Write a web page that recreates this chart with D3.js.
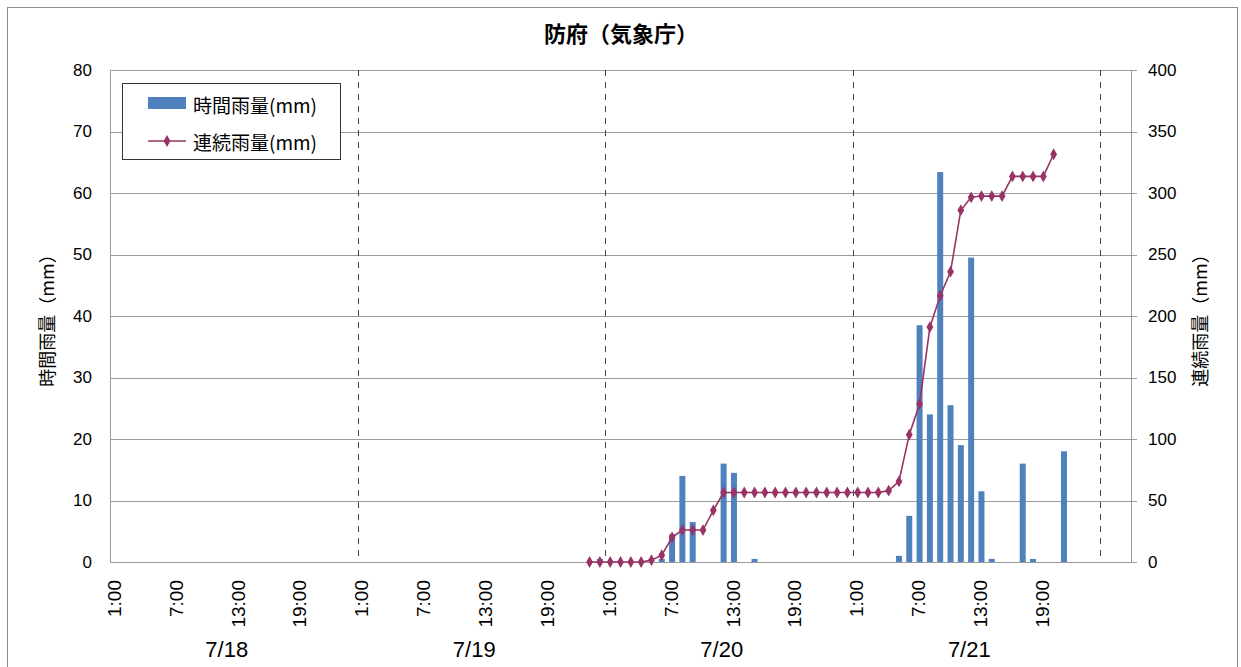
<!DOCTYPE html>
<html lang="ja">
<head>
<meta charset="UTF-8">
<title>防府（気象庁）</title>
<script src="https://d3js.org/d3.v7.min.js"></script>
<style>
  body { margin: 0; background: #fff; }
  text { fill: #000; }
</style>
</head>
<body>
<svg width="1241" height="667"></svg>
<script>
// day groups on the category axis, and the hour labels shown under each day
const days = ["7/18", "7/19", "7/20", "7/21"];
const hourTicks = ["1:00", "7:00", "13:00", "19:00"];
// the axis runs 3 hours past the last day
const extraSlots = ["7/22 1:00", "7/22 2:00", "7/22 3:00"];

// hourly rainfall (mm), one value per hour 1:00..24:00
const rain0718 = [0,0,0,0,0,0,0,0,0,0,0,0,0,0,0,0,0,0,0,0,0,0,0,0];
const rain0719 = [0,0,0,0,0,0,0,0,0,0,0,0,0,0,0,0,0,0,0,0,0,0,0,0.5];
const rain0720 = [0,0,0,0,0,0.5,4.5,14,6.5,0,0,16,14.5,0,0.5,0,0,0,0,0,0,0,0,0];
const rain0721 = [0,0,0,0,1,7.5,38.5,24,63.4,25.5,19,49.5,11.5,0.5,0,0,16,0.5,0,0,18,0,0,0];
const rainExtra = [0,0,0];

// continuous rainfall (mm), null = not observed
const cont0718 = [null,null,null,null,null,null,null,null,null,null,null,null,null,null,null,null,null,null,null,null,null,null,null,null];
const cont0719 = [null,null,null,null,null,null,null,null,null,null,null,null,null,null,null,null,null,null,null,null,null,null,0,0];
const cont0720 = [0,0,0,0,1.5,5.5,20,26,26,26,42,56.5,56.5,56.5,56.5,56.5,56.5,56.5,56.5,56.5,56.5,56.5,56.5,56.5];
const cont0721 = [56.5,56.5,56.5,58,65.5,103.5,128.5,191,216.5,236,286,296.5,297.5,297.5,297.5,313.5,313.5,313.5,313.5,331.5,null,null,null,null];
const contExtra = [null,null,null];

const leftTicks = [0,10,20,30,40,50,60,70,80];
const rightTicks = [0,50,100,150,200,250,300,350,400];

const jp = "'Noto Sans CJK JP', sans-serif";
const num = "'Liberation Sans', Arial, sans-serif";

// build the category list
const cats = [];
days.forEach(d => { for (let h = 1; h <= 24; h++) cats.push(d + " " + h + ":00"); });
extraSlots.forEach(s => cats.push(s));
const hourly = [].concat(rain0718, rain0719, rain0720, rain0721, rainExtra);
const cont = [].concat(cont0718, cont0719, cont0720, cont0721, contExtra);
const rows = cats.map((c, i) => ({cat: c, rain: hourly[i], cont: cont[i]}));

const pLeft = 110, pRight = 1131, pTop = 70, pBottom = 562;

const x = d3.scaleBand().domain(cats).range([pLeft, pRight]);
const yL = d3.scaleLinear().domain([0, 80]).range([pBottom, pTop]);
const yR = d3.scaleLinear().domain([0, 400]).range([pBottom, pTop]);

const svg = d3.select("svg");

// outer frame
svg.append("rect").attr("x", 7.5).attr("y", 7.5).attr("width", 1230).attr("height", 670)
    .attr("fill", "#fff").attr("stroke", "#8c8c8c");

// title
svg.append("text").attr("x", 621).attr("y", 32).attr("text-anchor", "middle")
    .attr("dominant-baseline", "central").style("font-family", jp)
    .style("font-size", "22px").style("font-weight", "bold").text("防府（気象庁）");

// horizontal gridlines
svg.append("g").selectAll("line").data(leftTicks).join("line")
    .attr("x1", pLeft).attr("x2", pRight + 6)
    .attr("y1", d => Math.round(yL(d)) + 0.5).attr("y2", d => Math.round(yL(d)) + 0.5)
    .attr("stroke", "#9a9a9a");

// axis lines
svg.append("line").attr("x1", pLeft + 0.5).attr("x2", pLeft + 0.5).attr("y1", pTop).attr("y2", pBottom)
    .attr("stroke", "#9a9a9a");
svg.append("line").attr("x1", pRight + 0.5).attr("x2", pRight + 0.5).attr("y1", pTop).attr("y2", pBottom)
    .attr("stroke", "#9a9a9a");

// day separators
const sepCats = days.slice(1).map(d => d + " 1:00").concat([extraSlots[0]]);
svg.append("g").selectAll("line").data(sepCats).join("line")
    .attr("x1", d => Math.round(x(d)) + 0.5).attr("x2", d => Math.round(x(d)) + 0.5)
    .attr("y1", pTop).attr("y2", pBottom)
    .attr("stroke", "#444").attr("stroke-dasharray", "6,6");

// left axis
const axL = svg.append("g").attr("transform", `translate(${pLeft},0)`)
    .call(d3.axisLeft(yL).tickValues(leftTicks).tickSize(0).tickPadding(18));
axL.select(".domain").remove();
axL.selectAll("text").style("font-family", num).style("font-size", "17px").attr("fill", "#000");

// right axis
const axR = svg.append("g").attr("transform", `translate(${pRight},0)`)
    .call(d3.axisRight(yR).tickValues(rightTicks).tickSize(0).tickPadding(17));
axR.select(".domain").remove();
axR.selectAll("text").style("font-family", num).style("font-size", "17px").attr("fill", "#000");

// axis titles
svg.append("text").attr("transform", `translate(46,${(pTop + pBottom) / 2}) rotate(-90)`)
    .attr("text-anchor", "middle").attr("dominant-baseline", "central")
    .style("font-family", jp).style("font-size", "18px").text("時間雨量（mm）");
svg.append("text").attr("transform", `translate(1199,${(pTop + pBottom) / 2}) rotate(-90)`)
    .attr("text-anchor", "middle").attr("dominant-baseline", "central")
    .style("font-family", jp).style("font-size", "18px").text("連続雨量（mm）");

// x axis: hour labels
const tickCats = [];
days.forEach(d => hourTicks.forEach(h => tickCats.push(d + " " + h)));
const axX = svg.append("g").attr("transform", `translate(0,${pBottom})`)
    .call(d3.axisBottom(x).tickValues(tickCats).tickSize(0).tickFormat(d => d.split(" ")[1]));
axX.select(".domain").attr("stroke", "#9a9a9a");
axX.selectAll("text")
    .attr("transform", "rotate(-90)")
    .attr("x", -18).attr("y", -1).attr("dy", "0.35em")
    .attr("text-anchor", "end")
    .style("font-family", num).style("font-size", "19px").attr("fill", "#000");

// day labels
svg.append("g").selectAll("text").data(days).join("text")
    .attr("x", d => (x(d + " 1:00") + x(d + " 24:00") + x.bandwidth()) / 2 - 7)
    .attr("y", 649).attr("text-anchor", "middle").attr("dominant-baseline", "central")
    .style("font-family", num).style("font-size", "22px").text(d => d);

// hourly rainfall bars
const barW = 6;
svg.append("g").selectAll("rect").data(rows.filter(r => r.rain > 0)).join("rect")
    .attr("x", d => x(d.cat) + (x.bandwidth() - barW) / 2)
    .attr("y", d => yL(d.rain))
    .attr("width", barW)
    .attr("height", d => pBottom - yL(d.rain))
    .attr("fill", "#4f81bd");

// continuous rainfall line
const contColor = "#993366";
const line = d3.line()
    .defined(d => d.cont !== null)
    .x(d => x(d.cat) + x.bandwidth() / 2)
    .y(d => yR(d.cont));
svg.append("path").datum(rows).attr("d", line)
    .attr("fill", "none").attr("stroke", contColor).attr("stroke-width", 1.6);
const diamond = d3.symbol().type(d3.symbolDiamond).size(40);
svg.append("g").selectAll("path").data(rows.filter(r => r.cont !== null)).join("path")
    .attr("transform", d => `translate(${x(d.cat) + x.bandwidth() / 2},${yR(d.cont)})`)
    .attr("d", diamond).attr("fill", contColor);

// legend
const lg = svg.append("g");
lg.append("rect").attr("x", 122.5).attr("y", 83.5).attr("width", 218).attr("height", 76)
    .attr("fill", "#fff").attr("stroke", "#333");
lg.append("rect").attr("x", 148).attr("y", 97).attr("width", 38).attr("height", 12).attr("fill", "#4f81bd");
lg.append("line").attr("x1", 148).attr("x2", 186).attr("y1", 141).attr("y2", 141)
    .attr("stroke", contColor).attr("stroke-width", 1.6);
lg.append("path").attr("transform", "translate(167,141)").attr("d", diamond).attr("fill", contColor);
lg.append("text").attr("x", 193).attr("y", 104).attr("dominant-baseline", "central")
    .style("font-family", jp).style("font-size", "19px").text("時間雨量(mm)");
lg.append("text").attr("x", 193).attr("y", 141).attr("dominant-baseline", "central")
    .style("font-family", jp).style("font-size", "19px").text("連続雨量(mm)");
</script>
</body>
</html>
